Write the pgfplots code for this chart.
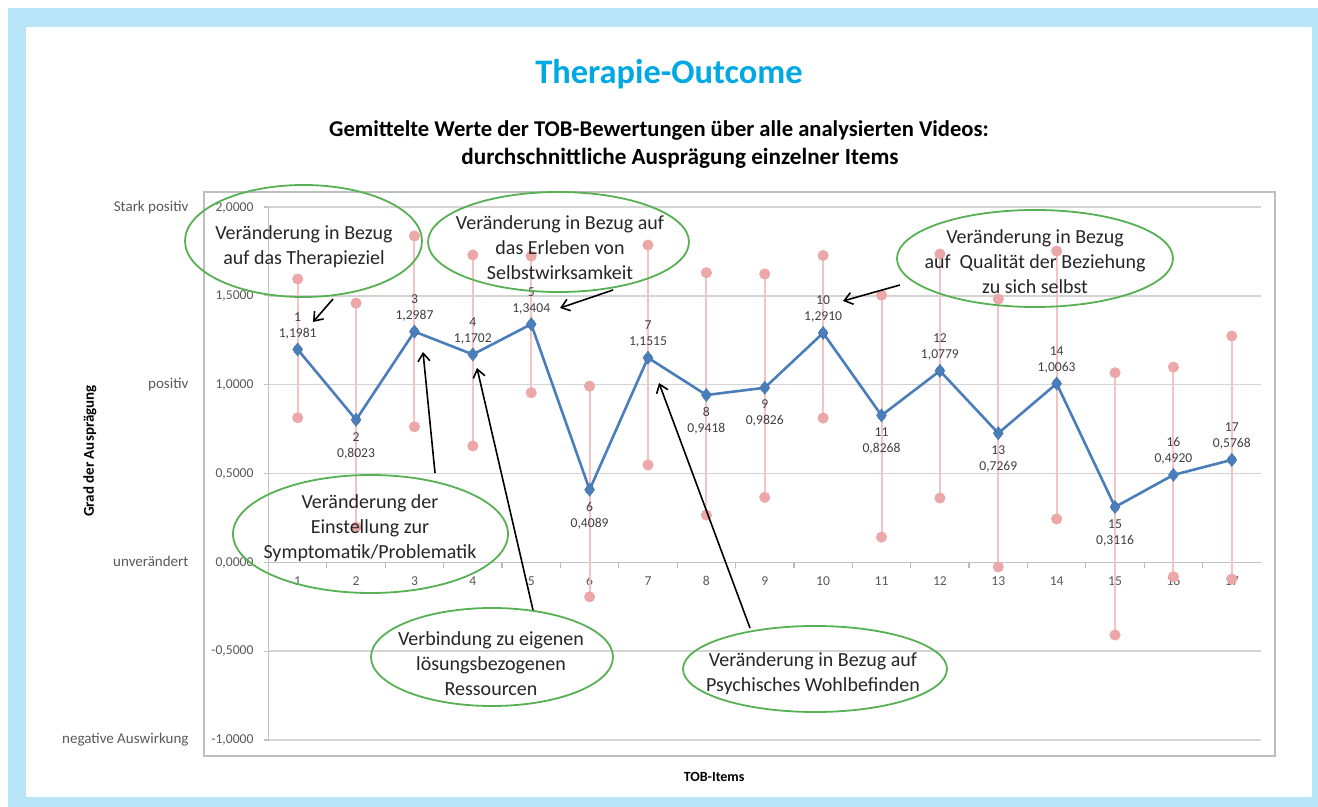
\documentclass[border=0pt]{standalone}
\usepackage{fontspec}
\setmainfont{Carlito}
\usepackage{pgfplots}
\pgfplotsset{compat=1.18}
\usepackage{pgfplotstable}
\usetikzlibrary{arrows.meta}
\pgfplotsset{/pgf/number format/assume math mode=true}

\definecolor{framecol}{RGB}{185,229,248}
\definecolor{chartborder}{RGB}{190,190,190}
\definecolor{titlecyan}{RGB}{0,168,228}
\definecolor{lineblue}{RGB}{74,126,187}
\definecolor{pinkline}{RGB}{244,196,196}
\definecolor{pinkdot}{RGB}{236,168,168}
\definecolor{ellgreen}{RGB}{88,176,84}
\definecolor{labelgray}{RGB}{64,64,64}
\definecolor{tickgray}{RGB}{89,89,89}
\definecolor{gridgray}{RGB}{212,212,212}

\newcommand{\wordlab}[2]{{\fontsize{7.5}{9}\selectfont #1}\makebox[32.5pt][r]{#2}}

% x = item, m = mean, hi/lo = ends of the range, up/dn = mean where label sits above/below
\pgfplotstableread{
x  m       hi     lo      up      dn
1  1.1981  1.595  0.814   1.1981  nan
2  0.8023  1.459  0.199   nan     0.8023
3  1.2987  1.837  0.763   1.2987  nan
4  1.1702  1.730  0.655   1.1702  nan
5  1.3404  1.724  0.955   1.3404  nan
6  0.4089  0.992  -0.194  nan     0.4089
7  1.1515  1.786  0.548   1.1515  nan
8  0.9418  1.630  0.266   nan     0.9418
9  0.9826  1.623  0.366   nan     0.9826
10 1.2910  1.727  0.812   1.2910  nan
11 0.8268  1.504  0.142   nan     0.8268
12 1.0779  1.735  0.362   1.0779  nan
13 0.7269  1.482  -0.026  nan     0.7269
14 1.0063  1.752  0.244   1.0063  nan
15 0.3116  1.067  -0.409  nan     0.3116
16 0.4920  1.099  -0.081  0.4920  nan
17 0.5768  1.274  -0.094  0.5768  nan
}\tobdata

\begin{document}
\begin{tikzpicture}
\useasboundingbox (0,0) rectangle (659pt,-403.5pt);
\begin{scope}[x=0.5pt,y=-0.5pt]
  \fill[framecol] (8,8) rectangle (1318,807);
  \fill[white] (26,27) rectangle (1312,797);
  \draw[chartborder, line width=0.9pt] (204,192) rectangle (1275,756);
  \node[anchor=base, font=\fontsize{17.2}{20}\selectfont\bfseries, text=titlecyan] at (669,84) {Therapie-Outcome};
  \node[anchor=base, font=\fontsize{11.3}{13}\selectfont\bfseries, text=black] at (659,137) {Gemittelte Werte der TOB-Bewertungen über alle analysierten Videos:};
  \node[anchor=base, font=\fontsize{11.6}{13}\selectfont\bfseries, text=black] at (680,165) {durchschnittliche Ausprägung einzelner Items};
\end{scope}

\begin{axis}[
  at={(134.25pt,-370pt)}, anchor=south west,
  scale only axis, width=496.25pt, height=266.5pt,
  xmin=0.5, xmax=17.5, ymin=-1, ymax=2,
  axis x line*=middle, axis y line*=left,
  hide obscured x ticks=false, hide obscured y ticks=false,
  axis line style={gridgray!80!gray, line width=0.8pt},
  ymajorgrids, grid style={gridgray, line width=0.8pt},
  xtick={1,...,17}, minor x tick num=1,
  tick align=outside, major tick length=2.5pt, minor tick length=3pt,
  major x tick style={draw=none},
  minor x tick style={draw=gridgray!70!gray, line width=0.6pt},
  ytick style={draw=gridgray!80!gray, line width=0.6pt},
  ytick={-1,-0.5,0,0.5,1,1.5,2},
  yticklabels={{\wordlab{negative Auswirkung}{-1,0000}},{-0,5000},{\wordlab{unverändert}{0,0000}},{0,5000},{\wordlab{positiv}{1,0000}},{1,5000},{\wordlab{Stark positiv}{2,0000}}},
  tick label style={font=\fontsize{6.8}{8}\selectfont, text=tickgray},
  yticklabel style={xshift=-1.5pt},
  xticklabel style={yshift=-1pt},
  xlabel={TOB-Items}, ylabel={Grad der Ausprägung},
  every axis x label/.style={at={(rel axis cs:0.449,-0.0694)}, anchor=center, font=\fontsize{7}{8}\selectfont\bfseries},
  every axis y label/.style={at={(rel axis cs:-0.1799,0.5422)}, anchor=center, rotate=90, font=\fontsize{7.5}{9}\selectfont\bfseries},
  clip=false,
]
% ranges (pink)
\addplot[only marks, mark=none, forget plot,
  error bars/.cd, y dir=both, y explicit,
  error bar style={pinkline, line width=1pt},
  error mark=*, error mark options={draw=pinkdot, fill=pinkdot, mark size=2.6pt, line width=0.3pt}]
  table[x=x, y=m, y error plus expr=\thisrow{hi}-\thisrow{m}, y error minus expr=\thisrow{m}-\thisrow{lo}] {\tobdata};
% mean line
\addplot[lineblue, line width=1.3pt, mark=diamond*, mark size=3.2pt, mark options={fill=lineblue, draw=lineblue, line width=0.4pt}]
  table[x=x, y=m] {\tobdata};
% labels above
\addplot[draw=none, mark=none, forget plot, point meta=y,
  visualization depends on={x \as \itemx},
  nodes near coords={\pgfmathprintnumber[fixed,precision=0]{\itemx}\\\pgfmathprintnumber[fixed,fixed zerofill,precision=4,use comma]{\pgfplotspointmeta}},
  every node near coord/.append style={anchor=south, yshift=4pt, align=center, inner sep=1pt, font=\fontsize{6.8}{8}\selectfont, text=labelgray}]
  table[x=x, y=up] {\tobdata};
% labels below
\addplot[draw=none, mark=none, forget plot, point meta=y,
  visualization depends on={x \as \itemx},
  nodes near coords={\pgfmathprintnumber[fixed,precision=0]{\itemx}\\\pgfmathprintnumber[fixed,fixed zerofill,precision=4,use comma]{\pgfplotspointmeta}},
  every node near coord/.append style={anchor=north, yshift=-5pt, align=center, inner sep=1pt, font=\fontsize{6.8}{8}\selectfont, text=labelgray}]
  table[x=x, y=dn] {\tobdata};
\end{axis}

\begin{scope}[x=0.5pt,y=-0.5pt, every node/.style={align=center, text=black!85, font=\fontsize{10}{12.5}\selectfont}]
  \draw[ellgreen, line width=0.9pt] (303.5,241) ellipse [x radius=118.5, y radius=56];
  \node at (304,247) {Veränderung in Bezug\\auf das Therapieziel};
  \draw[ellgreen, line width=0.9pt] (558.5,242) ellipse [x radius=130.5, y radius=50];
  \node at (560,248) {Veränderung in Bezug auf\\das Erleben von\\Selbstwirksamkeit};
  \draw[ellgreen, line width=0.9pt] (1035,258.5) ellipse [x radius=138, y radius=48.5];
  \node at (1035,262) {Veränderung in Bezug\\auf\ \ Qualität der Beziehung\\zu sich selbst};
  \draw[ellgreen, line width=0.9pt] (370.5,534) ellipse [x radius=137.5, y radius=59];
  \node at (370,528) {Veränderung der\\Einstellung zur\\Symptomatik/Problematik};
  \draw[ellgreen, line width=0.9pt] (492,657) ellipse [x radius=121, y radius=49];
  \node at (491,664) {Verbindung zu eigenen\\lösungsbezogenen\\Ressourcen};
  \draw[ellgreen, line width=0.9pt] (815,669) ellipse [x radius=132, y radius=43];
  \node at (813,674) {Veränderung in Bezug auf\\Psychisches Wohlbefinden};
  \begin{scope}[black, line width=0.8pt, -{Straight Barb[length=4pt,width=6pt]}]
    \draw (333,299) -- (313,322);
    \draw (613,290) -- (560,308);
    \draw (900,285) -- (843,301);
    \draw (435,473) -- (423,352);
    \draw (533,610) -- (477,368);
    \draw (750,628) -- (659,383);
  \end{scope}
\end{scope}
\end{tikzpicture}
\end{document}
